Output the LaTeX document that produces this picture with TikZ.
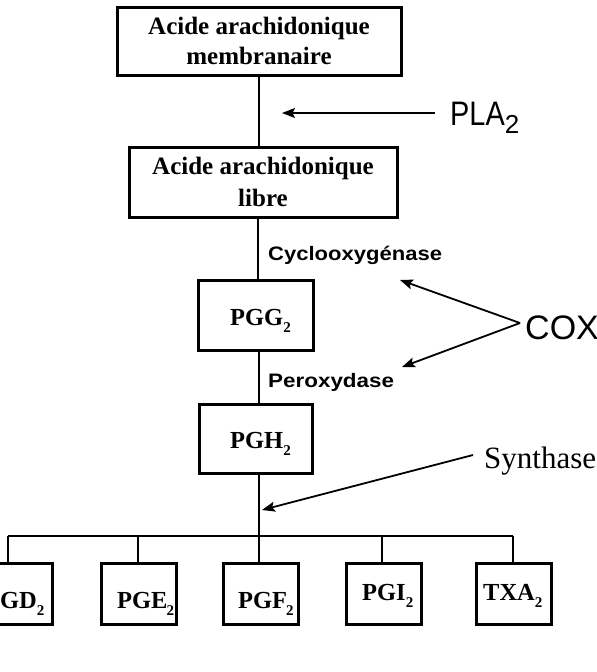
\documentclass[tikz,border=0pt]{standalone}
\usepackage{fontspec}
\setmainfont{Liberation Serif}
\setsansfont{Liberation Sans}
\usetikzlibrary{arrows.meta}
\newcommand\lowtwo[2][15]{\raisebox{-#2pt}{\fontsize{#1}{#1}\selectfont 2}}
\tikzset{
  box/.style={draw, line width=3pt, inner sep=0pt, align=center},
  pgbox/.style={draw, line width=3pt, inner sep=0pt, minimum width=75pt, minimum height=61pt},
  pg/.style={font=\fontsize{24.5}{24.5}\selectfont\bfseries, anchor=base west, inner sep=0pt},
  link/.style={line width=2.8pt},
  ptr/.style={line width=1.8pt, -{Stealth[length=13pt,width=10pt,inset=2.5pt]}},
  enz/.style={font=\fontsize{19.5}{19.5}\selectfont\sffamily\bfseries, anchor=base west, inner sep=0pt},
  sans/.style={font=\fontsize{34}{34}\selectfont\sffamily, anchor=base west, inner sep=0pt},
}
\begin{document}
\begin{tikzpicture}[x=1pt,y=-1pt]
\useasboundingbox (0,0) rectangle (597,672);
\clip (0,0) rectangle (597,672);
\fill[white] (0,0) rectangle (597,672);

% main boxes
\node[box, font=\fontsize{25}{30}\selectfont\bfseries, minimum width=284pt, minimum height=68pt] (top) at (259,41) {Acide arachidonique\\membranaire};
\node[box, font=\fontsize{25}{32}\selectfont\bfseries, minimum width=268pt, minimum height=70pt] (libre) at (263,182) {Acide arachidonique\\libre};
\node[box, minimum width=115pt, minimum height=70pt] (pgg) at (255.5,315) {};
\node[pg] (tpgg) at (230,325) {PGG\lowtwo{7}};
\node[box, minimum width=113pt, minimum height=69pt] (pgh) at (255.5,438.5) {};
\node[pg] (tpgh) at (230,448) {PGH\lowtwo{7}};

% bottom boxes
\node[pgbox] (pgd) at (15,593.5) {};
\node[pgbox] (pge) at (138.5,593.5) {};
\node[pgbox] (pgf) at (260.5,593.5) {};
\node[pgbox] (pgi) at (383.5,593.5) {};
\node[pgbox] (txa) at (514,593.5) {};
\node[pg] (tpgd) at (-15,608) {PGD\lowtwo{7}};
\node[pg] (tpge) at (117,608) {PGE\kern-1pt\lowtwo{7}};
\node[pg] (tpgf) at (238,608) {PGF\kern-1pt\lowtwo{7}};
\node[pg] (tpgi) at (362,600) {PGI\lowtwo{7}};
\node[pg] (ttxa) at (483,600) {TXA\lowtwo{7}};

% vertical chain
\draw[link] (top.south) -- (libre.north -| top.south);
\draw[link] (libre.south -| 258,0) -- (pgg.north -| 258,0);
\coordinate (j) at (259,536);
\draw[link] (pgg.south -| j) -- (pgh.north -| j);
\draw[link] (pgh.south -| j) -- (j);

% distribution bar
\coordinate (d1) at (8,536);
\coordinate (d2) at (138,536);
\coordinate (d4) at (382,536);
\coordinate (d5) at (513,536);
\draw[link] (d1) -- (d5);
\draw[link] (d1) -- (d1 |- pgd.north);
\draw[link] (d2) -- (d2 |- pge.north);
\draw[link] (j) -- (j |- pgf.north);
\draw[link] (d4) -- (d4 |- pgi.north);
\draw[link] (d5) -- (d5 |- txa.north);

% enzyme labels
\node[sans] (pla) at (450,125) {\scalebox{0.85}[1]{PLA}\lowtwo[26]{8}};
\coordinate (plaS) at (435,113);
\coordinate (plaE) at (282,113);
\draw[ptr] (plaS) -- (plaE);

\node[enz] (cyclo) at (268,260) {\scalebox{1.13}[1]{Cyclooxygénase}};
\node[enz] (perox) at (268,387) {\scalebox{1.15}[1]{Peroxydase}};
\node[sans] (cox) at (525,339) {COX};
\coordinate (coxp) at (520,323);
\coordinate (coxA) at (400,280);
\coordinate (coxB) at (402,367);
\draw[ptr] (coxp) -- (coxA);
\draw[ptr] (coxp) -- (coxB);

\node[font=\fontsize{31}{31}\selectfont, anchor=base west, inner sep=0pt] (syn) at (484,468) {Synthase};
\coordinate (synS) at (473,455);
\coordinate (synE) at (262,510);
\draw[ptr] (synS) -- (synE);
\end{tikzpicture}
\end{document}
